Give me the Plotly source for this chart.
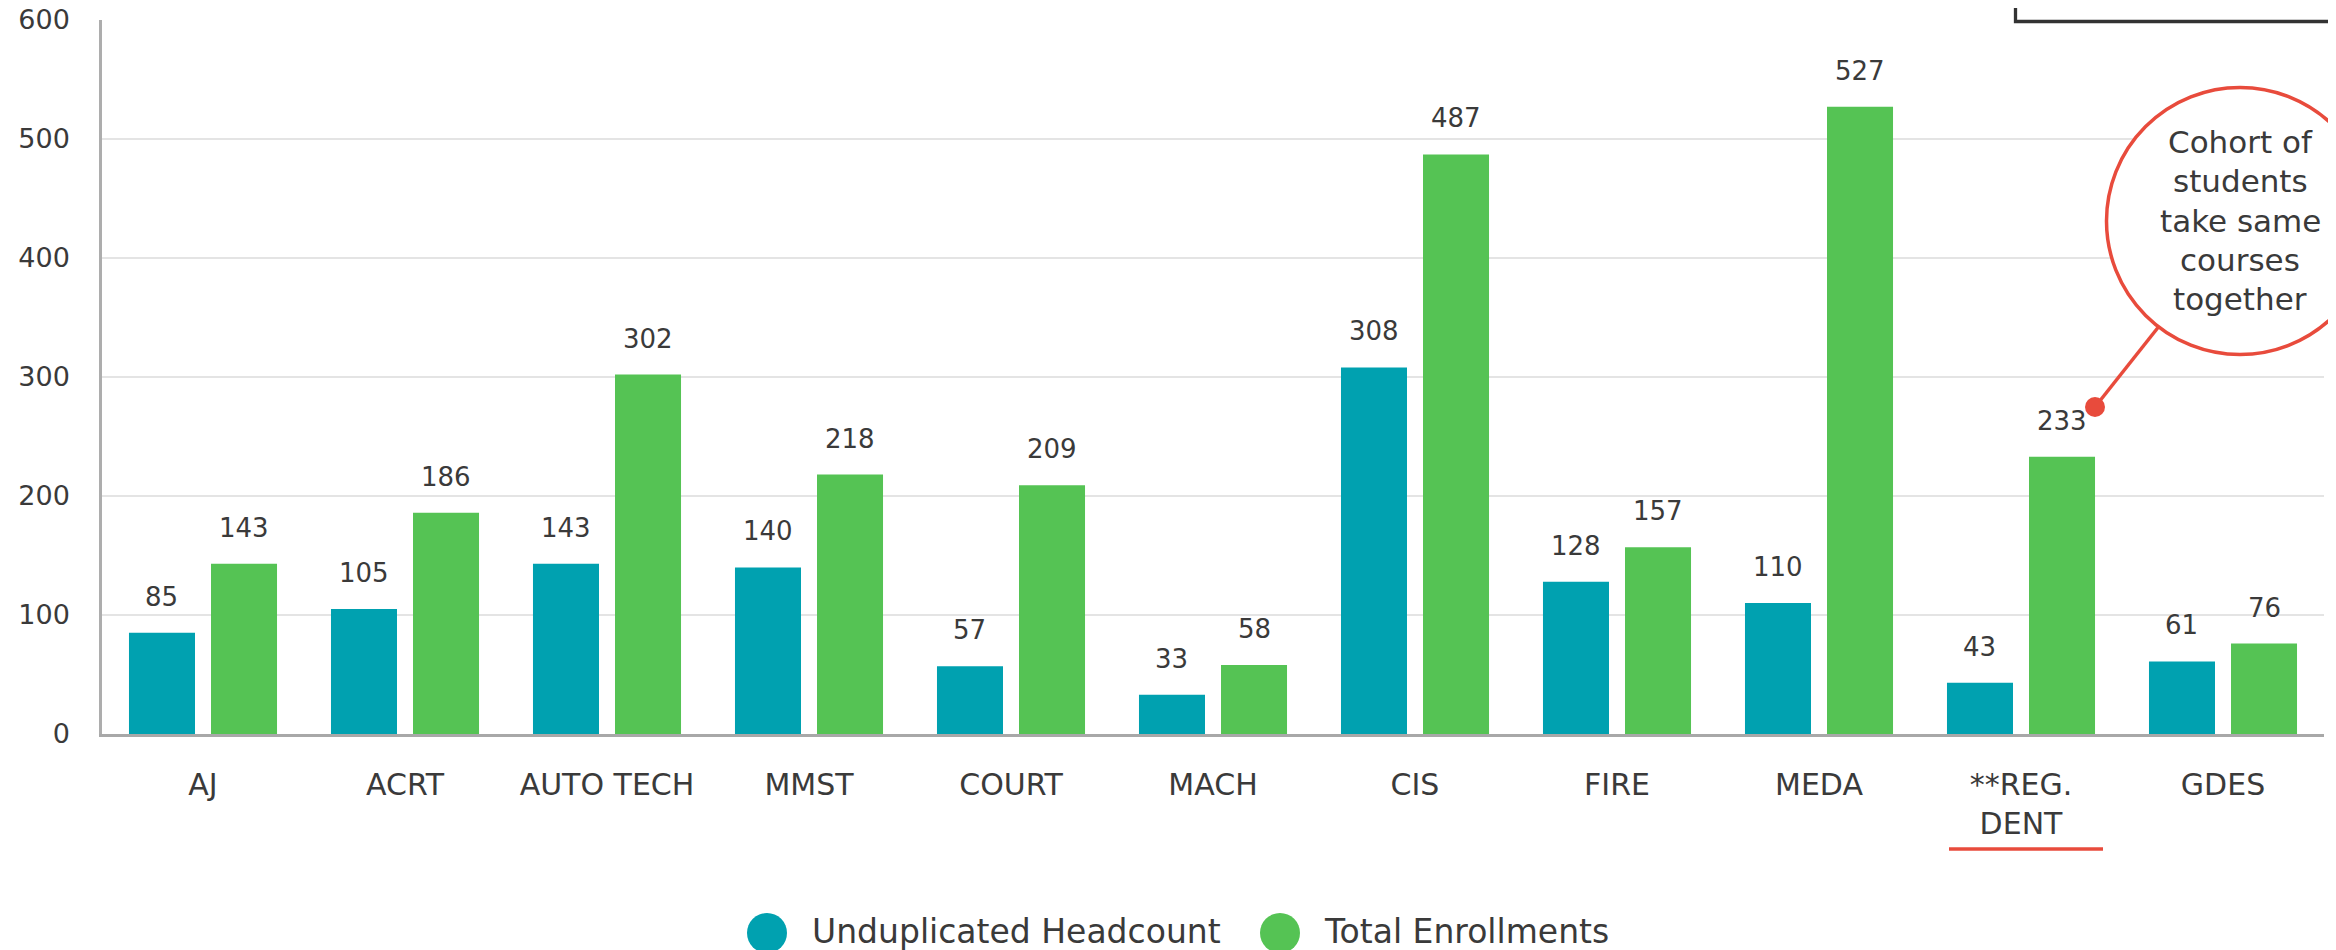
import plotly.graph_objects as go

# ---- data ----
categories = ["AJ", "ACRT", "AUTO TECH", "MMST", "COURT", "MACH", "CIS", "FIRE", "MEDA", "**REG.<br>DENT", "GDES"]
headcount = [85, 105, 143, 140, 57, 33, 308, 128, 110, 43, 61]
enrollments = [143, 186, 302, 218, 209, 58, 487, 157, 527, 233, 76]
series_names = ["Unduplicated Headcount", "Total Enrollments"]
y_ticks = [0, 100, 200, 300, 400, 500, 600]
callout_lines = ["Cohort of", "students", "take same", "courses", "together"]

# ---- style / geometry (page pixels; the page body adds an 8px margin) ----
BODY = 8
PAGE_W, PAGE_H = 2336, 950
PLOT_L, PLOT_R, PLOT_T, PLOT_B = 102, 2324, 20, 734   # plot area on the page
W, H = PAGE_W - BODY, PAGE_H - BODY
ML, MT = PLOT_L - BODY, PLOT_T - BODY
MR = W - (PLOT_R - BODY)
MB = H - (PLOT_B - BODY)
PW, PH = PLOT_R - PLOT_L, PLOT_B - PLOT_T
TEAL = "#00A1B0"
GREEN = "#55C354"
RED = "#E84B3C"
TXT = "#3A3A3A"
FONT = "DejaVu Sans"
BARGAP = 0.188
GROUPGAP = 0.195


def px(x):
    return (x - PLOT_L) / PW


def py(y):
    return (PLOT_B - y) / PH


fig = go.Figure()
fig.add_trace(go.Bar(x=categories, y=headcount, name=series_names[0],
                     marker=dict(color=TEAL, line=dict(width=0)), hoverinfo="x+y"))
fig.add_trace(go.Bar(x=categories, y=enrollments, name=series_names[1],
                     marker=dict(color=GREEN, line=dict(width=0)), hoverinfo="x+y"))

# value labels above each bar (positioned through the category axis)
slot = (1 - BARGAP) / 2
annotations = []
for i in range(len(categories)):
    for vals, off in ((headcount, -slot / 2), (enrollments, slot / 2)):
        annotations.append(dict(x=i + off, y=vals[i], xref="x", yref="y",
                                text=str(vals[i]), showarrow=False, yshift=36,
                                yanchor="middle", xanchor="center",
                                font=dict(family=FONT, size=26, color=TXT)))

# callout text
for k, line in enumerate(callout_lines):
    annotations.append(dict(x=px(2240), y=py(142 + 39.3 * k), xref="paper", yref="paper",
                            text=line, showarrow=False, xanchor="center", yanchor="middle",
                            font=dict(family=FONT, size=31, color=TXT)))

# manual legend
leg = [(767, TEAL, 810, series_names[0]), (1280, GREEN, 1322, series_names[1])]
shapes = []
for cx, col, tx, name in leg:
    shapes.append(dict(type="circle", xref="paper", yref="paper",
                       x0=px(cx - 20), x1=px(cx + 20), y0=py(913), y1=py(953),
                       fillcolor=col, line=dict(width=0)))
    annotations.append(dict(x=px(tx), y=py(932), xref="paper", yref="paper", text=name,
                            showarrow=False, xanchor="left", yanchor="middle",
                            font=dict(family=FONT, size=33, color=TXT)))

# top-right boxed frame (cut off)
shapes.append(dict(type="rect", xref="paper", yref="paper",
                   x0=px(2015.5), x1=px(2400), y0=py(21.5), y1=py(-40),
                   line=dict(color="#333333", width=3.3), fillcolor="rgba(0,0,0,0)"))

# callout connector, dot, circle
shapes.append(dict(type="line", xref="paper", yref="paper",
                   x0=px(2095), y0=py(407), x1=px(2160), y1=py(325),
                   line=dict(color=RED, width=3.5)))
shapes.append(dict(type="circle", xref="paper", yref="paper",
                   x0=px(2085), x1=px(2105), y0=py(417), y1=py(397),
                   fillcolor=RED, line=dict(width=0)))
shapes.append(dict(type="circle", xref="paper", yref="paper",
                   x0=px(2240 - 133.5), x1=px(2240 + 133.5), y0=py(221 + 133.5), y1=py(221 - 133.5),
                   fillcolor="white", line=dict(color=RED, width=3.5)))

# red underline below the **REG. DENT label
shapes.append(dict(type="line", xref="paper", yref="paper",
                   x0=px(1949), x1=px(2103), y0=py(849), y1=py(849),
                   line=dict(color=RED, width=3.5)))

fig.update_layout(
    width=W, height=H,
    margin=dict(l=ML, r=MR, t=MT, b=MB, pad=0, autoexpand=False),
    paper_bgcolor="white", plot_bgcolor="white",
    barmode="group", bargap=BARGAP, bargroupgap=GROUPGAP,
    showlegend=False,
    font=dict(family=FONT, color=TXT),
    annotations=annotations, shapes=shapes,
    xaxis=dict(showline=True, linecolor="#A8A8A8", linewidth=3, showgrid=False,
               ticks="outside", ticklen=22, tickcolor="rgba(0,0,0,0)", automargin=False,
               tickfont=dict(family=FONT, size=30, color=TXT), fixedrange=True),
    yaxis=dict(range=[0, 600], tickvals=y_ticks, showline=True, linecolor="#ADADAD",
               linewidth=2.5, gridcolor="#E4E4E4", gridwidth=2, zeroline=False,
               ticks="outside", ticklen=24, tickcolor="rgba(0,0,0,0)", automargin=False,
               ticklabeloverflow="allow",
               tickfont=dict(family=FONT, size=27, color=TXT), fixedrange=True),
)

fig.write_html("out.html")
